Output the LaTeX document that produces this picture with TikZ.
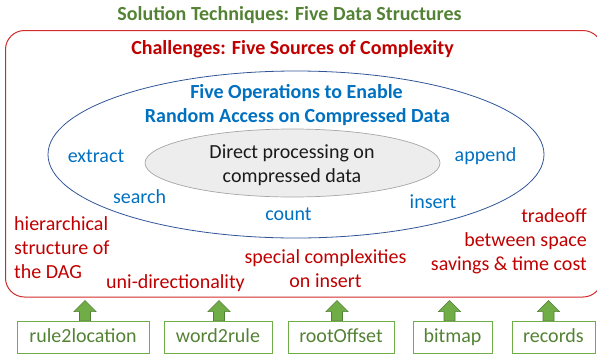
\documentclass[tikz,border=0pt]{standalone}
\usepackage{fontspec}
\setmainfont{Carlito}
\usetikzlibrary{calc}
\definecolor{tgreen}{HTML}{548235}
\definecolor{agreen}{HTML}{70AD47}
\definecolor{dgreen}{HTML}{507E32}
\definecolor{tred}{HTML}{C00000}
\definecolor{bred}{HTML}{D22B2B}
\definecolor{tblue}{HTML}{0070C0}
\definecolor{eblue}{HTML}{2F5597}
\definecolor{gfill}{HTML}{EDEDED}
\definecolor{gline}{HTML}{A6A6A6}
\definecolor{ttext}{HTML}{1A1A1A}
\newcommand{\greenarrow}[2]{%
  \draw[uparrow] ($(#1.north)+(#2-5.5,0)$) -- ++(0,-9) -- ++(-5.5,0) -- ++(11,-11) -- ++(11,11) -- ++(-5.5,0) -- ++(0,9) -- cycle;}
\begin{document}
\begin{tikzpicture}[x=1pt,y=-1pt,
  every node/.style={font=\fontsize{20}{24}\selectfont, inner sep=0pt, anchor=base},
  heading/.style={font=\fontsize{20}{24}\selectfont\bfseries},
  oplabel/.style={text=tblue},
  challenge/.style={text=tred},
  dsbox/.style={draw=agreen, line width=0.9pt, text=tgreen, anchor=center,
    minimum height=32.5pt, text height=14pt, text depth=3pt},
  uparrow/.style={fill=agreen, draw=dgreen, line width=0.6pt, line join=miter}]
\useasboundingbox (0,0) rectangle (597,354);
\clip (0,0) rectangle (597,354);

% outer title
\node[heading, text=tgreen] (sol) at (289.5,20.5) {Solution Techniques: Five Data Structures};

% challenges frame
\draw[bred, line width=1pt, rounded corners=19pt] (5.5,30.5) rectangle (602,297);
\node[heading, text=tred] (chal) at (292.5,54) {Challenges: Five Sources of Complexity};

% operations ellipse
\draw[eblue, line width=0.8pt] (296,154.5) ellipse [x radius=248, y radius=83.5];
\node[heading, text=tblue] (ops1) at (296.5,98) {Five Operations to Enable};
\node[heading, text=tblue] (ops2) at (297.5,122) {Random Access on Compressed Data};

% inner ellipse
\draw[gline, fill=gfill, line width=0.7pt] (292.5,163) ellipse [x radius=147.5, y radius=34];
\node[text=ttext, align=center] (core) at (292,182) {Direct processing on\\compressed data};

% operations
\node[oplabel] (extract) at (96,162) {extract};
\node[oplabel] (search) at (139.5,203) {search};
\node[oplabel] (count) at (288.5,220) {count};
\node[oplabel] (insert) at (433,208) {insert};
\node[oplabel] (append) at (485.5,161) {append};

% challenges
\node[challenge, align=left, anchor=base west] (hier) at (14,278) {hierarchical\\structure of\\the DAG};
\node[challenge] (uni) at (175.5,288) {uni-directionality};
\node[challenge, align=center] (spec) at (325.5,287) {special complexities\\on insert};
\node[challenge, align=right, anchor=base east] (trade) at (587,270) {tradeoff\\between space\\savings \& time cost};

% data structures
\node[dsbox, minimum width=132pt] (r2l) at (83,337.25) {rule2location};
\node[dsbox, minimum width=108pt] (w2r) at (218,337.25) {word2rule};
\node[dsbox, minimum width=106pt] (root) at (341,337.25) {rootOffset};
\node[dsbox, minimum width=79pt] (bmp) at (452.5,337.25) {bitmap};
\node[dsbox, minimum width=83pt] (rec) at (553.5,337.25) {records};

\greenarrow{r2l}{2}
\greenarrow{w2r}{1}
\greenarrow{root}{-4}
\greenarrow{bmp}{-3}
\greenarrow{rec}{-5}
\end{tikzpicture}
\end{document}
